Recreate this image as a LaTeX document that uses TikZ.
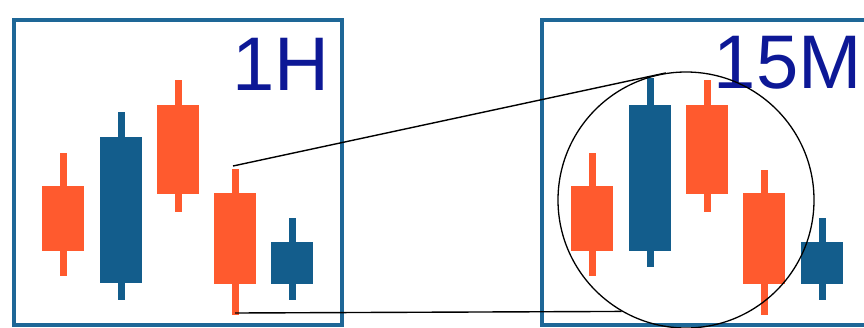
\documentclass[tikz,border=0pt]{standalone}
\usepackage{fontspec}
\newfontfamily\labelfont{Liberation Sans}
\definecolor{bear}{HTML}{FF5A2E}
\definecolor{bull}{HTML}{135D8C}
\definecolor{boxblue}{HTML}{1E6797}
\definecolor{navy}{HTML}{0D1896}
\begin{document}
\begin{tikzpicture}[x=1pt,y=-1pt,
        frame/.style={draw=boxblue,line width=4.5pt},
        tf/.style={anchor=base east,inner sep=0pt,text=navy,font=\labelfont\fontsize{76}{76}\selectfont},
        zoomline/.style={line width=1.4pt}]
    \useasboundingbox (0,0) rectangle (864,327);
    %% frames
    \draw[frame] (14,20) rectangle (342,325);
    \draw[frame] (542,20) rectangle (890,325);
    \node[tf] (hour) at (330,90) {1H};
    \node[tf] (quarter) at (862,88) {15M};
    %% candles: centre / wick top / body top / body bottom / wick bottom / colour
    \foreach \x/\wt/\bt/\bb/\wb/\c in {63/153/186/251/276/bear, 121/112/137/283/300/bull,
            178/80/105/194/212/bear, 235/169/193/284/315/bear, 292/218/242/284/300/bull,
            592/153/186/251/276/bear, 650/78/105/251/267/bull, 707/80/105/194/212/bear,
            764/170/193/284/315/bear, 822/218/242/284/300/bull}
        {\fill[\c] (\x-3.5,\wt) rectangle (\x+3.5,\wb);
         \fill[\c] (\x-21,\bt) rectangle (\x+21,\bb);}
    %% zoom
    \node[draw,circle,line width=1.3pt,minimum size=256pt,inner sep=0pt] (lens) at (686,200) {};
    \coordinate (wickhi) at (233,166);
    \coordinate (wicklo) at (235,313);
    \draw[zoomline] (wickhi) -- (lens.99);
    \draw[zoomline] (wicklo) -- (lens.240);
\end{tikzpicture}
\end{document}
